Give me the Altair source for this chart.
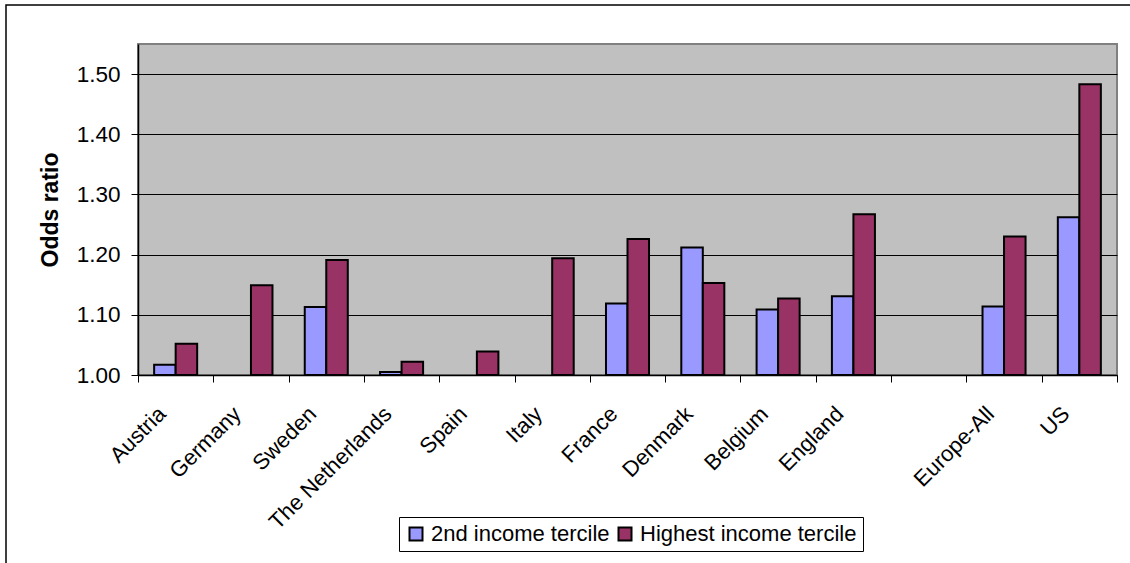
import altair as alt
import pandas as pd

# Categories (a blank slot separates the country list from the aggregates)
countries = ["Austria", "Germany", "Sweden", "The Netherlands", "Spain", "Italy",
             "France", "Denmark", "Belgium", "England", " ", "Europe-All", "US"]
series = ["2nd income tercile", "Highest income tercile"]
colors = ["#9999FF", "#993366"]

# Odds ratios by income tercile (None = not shown)
second_tercile = [1.017, None, 1.113, 1.005, None, None,
                  1.119, 1.212, 1.109, 1.131, None, 1.114, 1.262]
highest_tercile = [1.052, 1.149, 1.191, 1.022, 1.039, 1.194,
                   1.226, 1.153, 1.127, 1.267, None, 1.230, 1.483]

y_ticks = [1.0, 1.1, 1.2, 1.3, 1.4, 1.5]

rows = []
for c, a, b in zip(countries, second_tercile, highest_tercile):
    for s, v in zip(series, (a, b)):
        if v is not None:
            rows.append({"country": c, "series": s, "odds": v})
df = pd.DataFrame(rows)

FONT = "Liberation Sans"
W, H = 979, 331

bars = alt.Chart(df).mark_bar(stroke="black", strokeWidth=2).encode(
    x=alt.X(
        "country:N",
        sort=countries,
        scale=alt.Scale(domain=countries, paddingInner=0, paddingOuter=0),
        axis=alt.Axis(
            title=None,
            labelAngle=-45,
            labelAlign="right",
            labelBaseline="middle",
            labelFont=FONT,
            labelFontSize=22,
            labelColor="black",
            labelPadding=28,
            labelOffset=-14,
            labelLimit=400,
            tickBand="extent",
            tickSize=7,
            tickColor="black",
            domainColor="black",
            domainWidth=1.5,
            grid=False,
        ),
    ),
    xOffset=alt.XOffset(
        "series:N",
        sort=series,
        scale=alt.Scale(domain=series, paddingInner=0, paddingOuter=0.75),
    ),
    y=alt.Y(
        "odds:Q",
        scale=alt.Scale(domain=[1.0, 1.55], zero=False, nice=False),
        axis=alt.Axis(
            values=y_ticks,
            format=".2f",
            title="Odds ratio",
            titleFont=FONT,
            titleFontSize=23,
            titleFontWeight="bold",
            titleColor="black",
            titleAngle=-90,
            titleAlign="center",
            titleBaseline="alphabetic",
            titleX=-81,
            titleY=H / 2,
            labelFont=FONT,
            labelFontSize=22.5,
            labelColor="black",
            labelPadding=11,
            tickSize=7,
            tickColor="black",
            domainColor="black",
            domainWidth=1.5,
            grid=True,
            gridColor="black",
            gridWidth=1,
        ),
    ),
    y2=alt.datum(1.0),
    color=alt.Color(
        "series:N",
        sort=series,
        scale=alt.Scale(domain=series, range=colors),
        legend=alt.Legend(
            title=None,
            orient="none",
            legendX=261,
            legendY=473,
            direction="horizontal",
            symbolType="square",
            symbolSize=169,
            symbolStrokeColor="black",
            symbolStrokeWidth=2,
            labelFont=FONT,
            labelFontSize=22,
            labelColor="black",
            labelLimit=400,
            labelOffset=4,
            columnPadding=4,
            padding=6,
            strokeColor="black",
            fillColor="white",
        ),
    ),
)

# Outer chart border
frame = alt.Chart(pd.DataFrame({"k": [0]})).mark_rect(
    fillOpacity=0, stroke="black", strokeWidth=1.5
).encode(
    x=alt.value(-132), x2=alt.value(1000),
    y=alt.value(-39), y2=alt.value(540),
)

chart = alt.layer(frame, bars).properties(
    width=W,
    height=H,
    background="white",
    padding={"left": 138, "top": 44, "right": 13, "bottom": 188},
    autosize=alt.AutoSizeParams(type="none"),
).configure_view(
    fill="#C0C0C0",
    stroke="#808080",
    strokeWidth=2,
)

chart.save("out.html", embed_options={"renderer": "svg", "actions": False})
